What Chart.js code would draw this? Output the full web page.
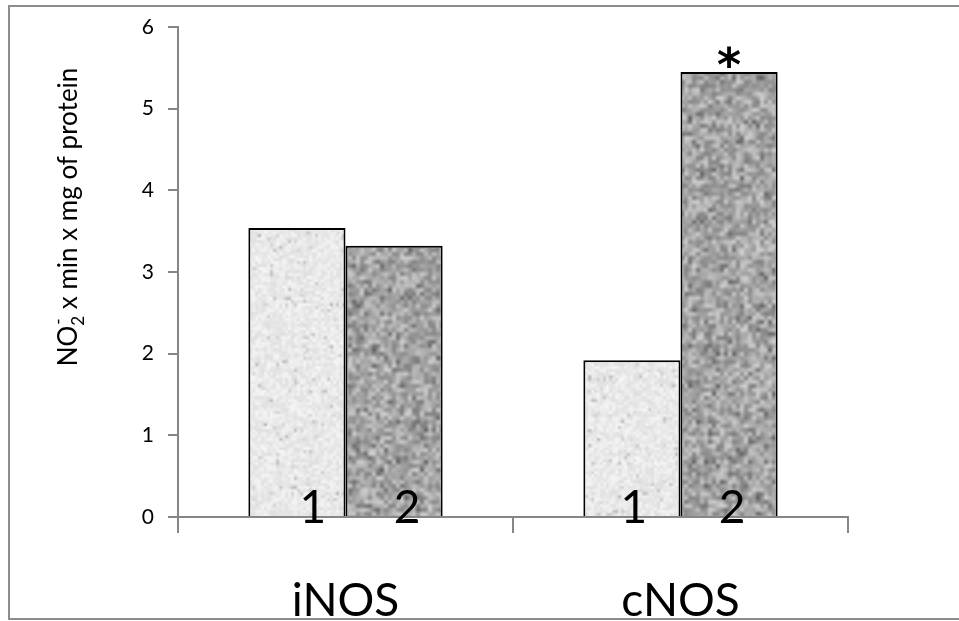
<!DOCTYPE html>
<html>
<head>
<meta charset="utf-8">
<script src="https://cdn.jsdelivr.net/npm/chart.js@4/dist/chart.umd.min.js"></script>
<style>
  html, body { margin: 0; padding: 0; background: #fff; }
  #wrap { width: 959px; height: 621px; position: relative; }
</style>
</head>
<body>
<div id="wrap"><canvas id="chart" width="959" height="621"></canvas></div>
<script>
const categories = ['iNOS', 'cNOS']
const group1Values = [3.54, 1.92]
const group2Values = [3.32, 5.45]
const barLabels = ['1', '2']
const yTicks = [0, 1, 2, 3, 4, 5, 6]
const significant = [[false, false], [false, true]] // [dataset][category]

const FONT = 'Lato, "Open Sans", sans-serif'
const AXIS_GREY = '#868686'

// small seeded generator, only used for the speckled bar texture
function makeRng(seed) {
  let s = seed
  return () => {
    s = (s * 1103515245 + 12345) & 0x7fffffff
    return s / 0x7fffffff
  }
}

// one texture as big as the canvas, so no tile seams show
function speckle(base, spread, dark, seed, scale) {
  const cw = Math.ceil(960 / scale) + 2
  const ch = Math.ceil(624 / scale) + 2
  const small = document.createElement('canvas')
  small.width = cw
  small.height = ch
  const sctx = small.getContext('2d')
  const img = sctx.createImageData(cw, ch)
  const rnd = makeRng(seed)
  for (let i = 0; i < cw * ch; i++) {
    let v = base + (rnd() - 0.5) * spread
    if (rnd() < dark) v -= 45 * rnd()
    v = Math.max(0, Math.min(255, v))
    img.data[i * 4] = v
    img.data[i * 4 + 1] = v
    img.data[i * 4 + 2] = v
    img.data[i * 4 + 3] = 255
  }
  sctx.putImageData(img, 0, 0)
  const big = document.createElement('canvas')
  big.width = 960
  big.height = 624
  const bctx = big.getContext('2d')
  bctx.imageSmoothingEnabled = true
  bctx.drawImage(small, -scale, -scale, cw * scale, ch * scale)
  return bctx.createPattern(big, 'no-repeat')
}

const lightFill = speckle(234, 24, 0.06, 7, 3)
const darkFill = speckle(170, 80, 0.3, 19, 4)

const extrasPlugin = {
  id: 'extras',
  afterDraw(chart) {
    const ctx = chart.ctx
    const y = chart.scales.y
    ctx.save()

    // outer frame
    ctx.strokeStyle = '#8c8c8c'
    ctx.lineWidth = 2
    ctx.beginPath()
    ctx.moveTo(970, 6)
    ctx.lineTo(9, 6)
    ctx.lineTo(9, 619)
    ctx.lineTo(970, 619)
    ctx.stroke()

    // numbers at the foot of the bars
    ctx.fillStyle = '#000'
    ctx.font = '46px ' + FONT
    ctx.textAlign = 'center'
    ctx.textBaseline = 'alphabetic'
    const shift = [[16, 13], [2, 3]]
    chart.data.datasets.forEach((ds, d) => {
      chart.getDatasetMeta(d).data.forEach((bar, c) => {
        ctx.fillText(barLabels[d], bar.x + shift[c][d], y.getPixelForValue(0) + 6)
        if (significant[d][c]) {
          ctx.save()
          ctx.font = 'bold 46px "DejaVu Sans", sans-serif'
          ctx.fillText('*', bar.x, bar.y + 9)
          ctx.restore()
        }
      })
    })

    // y axis title with NO2- sub/superscript
    ctx.translate(69, 217)
    ctx.rotate(-Math.PI / 2)
    const big = '26px ' + FONT
    const tiny = '17px ' + FONT
    const rest = ' x min x mg of protein'
    ctx.font = big
    const wNO = ctx.measureText('NO').width
    const wRest = ctx.measureText(rest).width
    ctx.font = tiny
    const wSub = ctx.measureText('2').width
    const total = wNO + wSub + wRest
    let x = -total / 2
    ctx.textAlign = 'left'
    ctx.textBaseline = 'middle'
    ctx.font = big
    ctx.fillText('NO', x, 0)
    x += wNO
    ctx.font = tiny
    ctx.fillText('-', x + 1, -10)
    ctx.fillText('2', x, 10)
    x += wSub
    ctx.font = big
    ctx.fillText(rest, x, 0)
    ctx.restore()
  }
}

new Chart(document.getElementById('chart'), {
  type: 'bar',
  data: {
    labels: categories,
    datasets: [
      {
        data: group1Values,
        backgroundColor: lightFill,
        borderColor: '#000',
        borderWidth: 2,
        barPercentage: 1,
        categoryPercentage: 0.58
      },
      {
        data: group2Values,
        backgroundColor: darkFill,
        borderColor: '#000',
        borderWidth: 2,
        barPercentage: 1,
        categoryPercentage: 0.58
      }
    ]
  },
  options: {
    responsive: false,
    animation: false,
    layout: { padding: { left: 0, right: 111, top: 27, bottom: 0 } },
    plugins: {
      legend: { display: false },
      tooltip: { enabled: false }
    },
    scales: {
      x: {
        afterFit(scale) { scale.height = 104 },
        grid: {
          offset: true,
          drawOnChartArea: false,
          tickLength: 16,
          color: AXIS_GREY,
          lineWidth: 2
        },
        border: { color: AXIS_GREY, width: 2 },
        ticks: {
          color: '#000',
          font: { family: FONT, size: 46 },
          padding: 41
        }
      },
      y: {
        min: 0,
        max: 6,
        afterFit(scale) { scale.width = 178 },
        afterBuildTicks(scale) { scale.ticks = yTicks.map(v => ({ value: v })) },
        grid: {
          drawOnChartArea: false,
          tickLength: 10,
          color: AXIS_GREY,
          lineWidth: 2
        },
        border: { color: AXIS_GREY, width: 2 },
        ticks: {
          color: '#000',
          font: { family: FONT, size: 21 },
          padding: 14
        }
      }
    }
  },
  plugins: [extrasPlugin]
})
</script>
</body>
</html>
